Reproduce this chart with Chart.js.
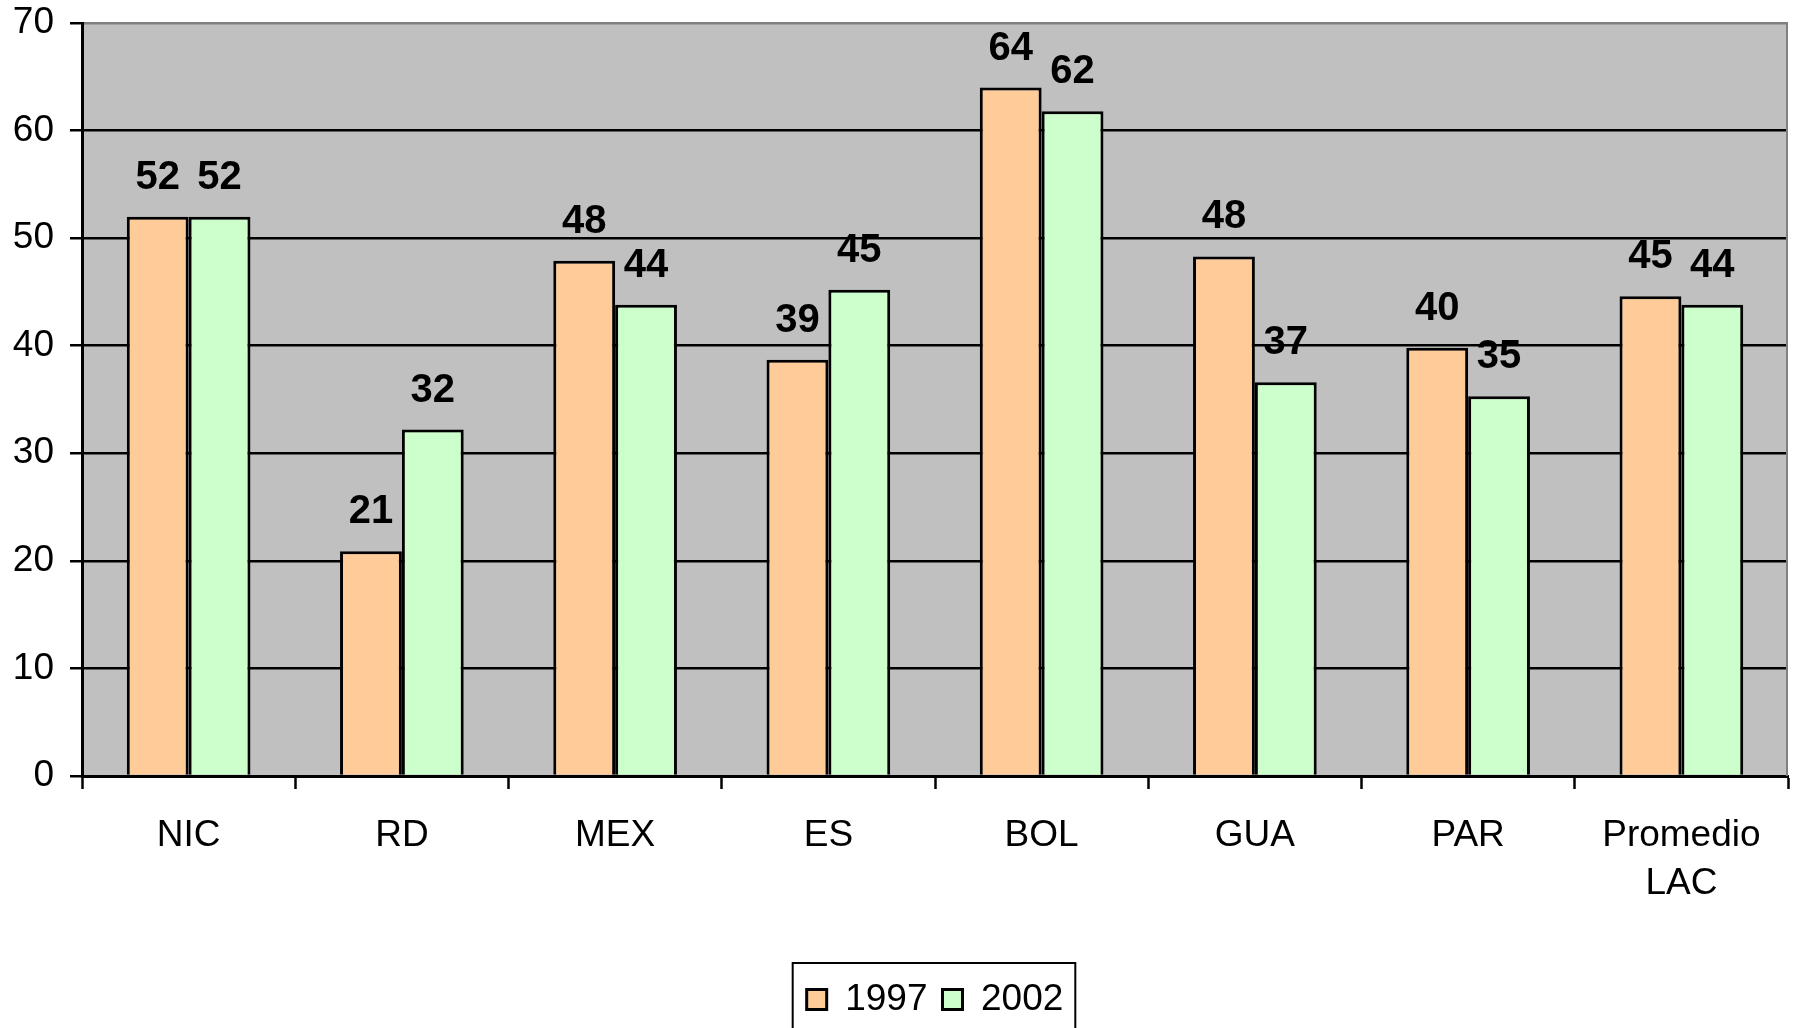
<!DOCTYPE html>
<html>
<head>
<meta charset="utf-8">
<script src="https://cdn.jsdelivr.net/npm/chart.js@4.4.0/dist/chart.umd.min.js"></script>
<style>
  html, body { margin: 0; padding: 0; background: #fff; overflow: hidden; }
  #wrap { width: 1798px; height: 1028px; }
</style>
</head>
<body>
<div id="wrap"><canvas id="c" width="1798" height="1028"></canvas></div>
<script>
const categories = ['NIC', 'RD', 'MEX', 'ES', 'BOL', 'GUA', 'PAR', ['Promedio', 'LAC']];
const series1997 = [52.0, 20.9, 47.9, 38.7, 64.0, 48.3, 39.8, 44.6];
const series2002 = [52.0, 32.2, 43.8, 45.2, 61.8, 36.6, 35.3, 43.8];
const yTicks = [0, 10, 20, 30, 40, 50, 60, 70];

Chart.defaults.font.family = "'Liberation Sans', Arial, sans-serif";
Chart.defaults.color = '#000';

const plotBg = {
  id: 'plotBg',
  beforeDraw(chart) {
    const { ctx, chartArea: a } = chart;
    ctx.save();
    ctx.fillStyle = '#C0C0C0';
    ctx.fillRect(a.left, a.top, a.right - a.left, a.bottom - a.top);
    ctx.restore();
  },
  beforeDatasetsDraw(chart) {
    const { ctx, chartArea: a } = chart;
    ctx.save();
    ctx.strokeStyle = '#808080';
    ctx.lineWidth = 2;
    ctx.beginPath();
    ctx.moveTo(a.right - 1, a.top);
    ctx.lineTo(a.right - 1, a.bottom);
    ctx.stroke();
    ctx.restore();
  }
};

const valueLabels = {
  id: 'valueLabels',
  afterDatasetsDraw(chart) {
    const ctx = chart.ctx;
    ctx.save();
    ctx.font = "bold 40px 'Liberation Sans', Arial, sans-serif";
    ctx.fillStyle = '#000';
    ctx.textAlign = 'center';
    ctx.textBaseline = 'alphabetic';
    chart.data.datasets.forEach((ds, i) => {
      chart.getDatasetMeta(i).data.forEach((bar, j) => {
        ctx.fillText(String(Math.round(ds.data[j])), bar.x, bar.y - 28);
      });
    });
    ctx.restore();
  }
};

const legendBorder = {
  id: 'legendBorder',
  afterDraw(chart) {
    const lg = chart.legend;
    if (!lg || !lg.legendHitBoxes || !lg.legendHitBoxes.length) return;
    const hb = lg.legendHitBoxes;
    const left = hb[0].left - 14;
    const right = hb[hb.length - 1].left + hb[hb.length - 1].width + 12;
    const ctx = chart.ctx;
    ctx.save();
    ctx.strokeStyle = '#000';
    ctx.lineWidth = 2;
    ctx.strokeRect(left, lg.top - 3, right - left, 120);
    ctx.restore();
  }
};

new Chart(document.getElementById('c'), {
  type: 'bar',
  data: {
    labels: categories,
    datasets: [
      { label: '1997', data: series1997, backgroundColor: '#FFCC99', borderColor: '#000', borderWidth: 3,
        barPercentage: 1.0, categoryPercentage: 0.58 },
      { label: '2002', data: series2002, backgroundColor: '#CCFFCC', borderColor: '#000', borderWidth: 3,
        barPercentage: 1.0, categoryPercentage: 0.58 }
    ]
  },
  options: {
    responsive: false,
    animation: false,
    layout: { padding: { top: 23, right: 10, left: 0, bottom: 0 } },
    plugins: {
      legend: {
        position: 'bottom',
        fullSize: false,
        labels: {
          boxWidth: 20, boxHeight: 20, padding: 15,
          font: { size: 37 }, color: '#000'
        }
      },
      tooltip: { enabled: false }
    },
    scales: {
      x: {
        afterFit(scale) { scale.height = 190; },
        grid: { drawOnChartArea: false, drawTicks: true, tickLength: 13, tickColor: '#000', tickWidth: 2.5 },
        border: { color: '#000', width: 3 },
        ticks: { font: { size: 37, lineHeight: 1.32 }, color: '#000', padding: 22, maxRotation: 0, autoSkip: false }
      },
      y: {
        min: 0, max: 70,
        afterFit(scale) { scale.width = 82; scale.paddingTop = 0; scale.paddingBottom = 0; },
        afterBuildTicks(scale) { scale.ticks = yTicks.map(v => ({ value: v })); },
        grid: {
          color: (c) => (c.tick && c.tick.value === 70 ? '#808080' : '#000'),
          lineWidth: 2.5, drawTicks: true, tickLength: 12, tickColor: '#000', tickWidth: 2.5
        },
        border: { color: '#000', width: 3 },
        ticks: { font: { size: 37 }, color: '#000', padding: 16 }
      }
    }
  },
  plugins: [plotBg, valueLabels, legendBorder]
});
</script>
</body>
</html>
